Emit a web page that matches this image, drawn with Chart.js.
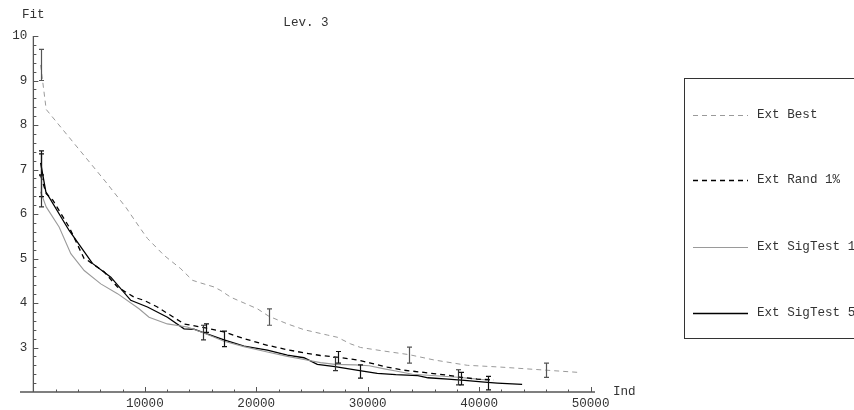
<!DOCTYPE html>
<html>
<head>
<meta charset="utf-8">
<script src="https://cdn.jsdelivr.net/npm/chart.js@4/dist/chart.umd.min.js"></script>
<style>
  html, body { margin: 0; padding: 0; background: #fff; }
  #wrap { width: 854px; height: 410px; position: relative; }
</style>
</head>
<body>
<div id="wrap"><canvas id="c" width="854" height="410"></canvas></div>
<script>
// Fitness vs. number of individuals, level 3 runs
const seriesNames = ['Ext Best', 'Ext Rand 1%', 'Ext SigTest 1%', 'Ext SigTest 5%'];

const bestX = [650, 1150, 6500, 8300, 9640, 10240, 11730, 13230, 14280, 15020, 16215, 16820, 17710, 20100, 21150, 22800, 24290, 26380, 27280, 28480, 29370, 31460, 33700, 35950, 38940, 41930, 46030, 48950];
const bestY = [9.35, 8.35, 6.72, 6.15, 5.66, 5.45, 5.07, 4.77, 4.51, 4.45, 4.36, 4.28, 4.13, 3.87, 3.70, 3.53, 3.40, 3.28, 3.23, 3.08, 3.00, 2.92, 2.84, 2.72, 2.60, 2.56, 2.49, 2.44];

const randX = [650, 1150, 1750, 3200, 4550, 4860, 6350, 7550, 9040, 9930, 11130, 13520, 15450, 17110, 18900, 21000, 22790, 24280, 25770, 27300, 29090, 30260, 31750, 33240, 35040, 37430, 38400, 39820, 41330];
const randY = [6.87, 6.46, 6.31, 5.71, 5.00, 4.96, 4.70, 4.36, 4.13, 4.06, 3.91, 3.53, 3.44, 3.35, 3.20, 3.05, 2.95, 2.88, 2.82, 2.78, 2.72, 2.65, 2.56, 2.49, 2.44, 2.37, 2.33, 2.29, 2.27];

const sig1X = [650, 1150, 2310, 3360, 4560, 6050, 7550, 9480, 10380, 12020, 13810, 15250, 17110, 18900, 21000, 22790, 24280, 25770, 27070, 28870, 30130, 31500, 32520, 34030, 38130, 39870, 40740];
const sig1Y = [6.50, 6.16, 5.71, 5.11, 4.73, 4.43, 4.21, 3.87, 3.68, 3.53, 3.46, 3.33, 3.14, 3.02, 2.90, 2.80, 2.73, 2.66, 2.62, 2.61, 2.59, 2.52, 2.47, 2.40, 2.33, 2.29, 2.27];

const sig5X = [650, 1120, 3210, 5300, 6950, 8740, 10240, 12030, 13520, 14410, 15320, 17110, 18900, 21000, 22790, 24280, 25480, 27070, 29280, 30860, 32520, 34510, 35410, 37200, 38700, 40490, 41630, 43860];
const sig5Y = [7.15, 6.50, 5.63, 4.89, 4.58, 4.06, 3.91, 3.68, 3.42, 3.41, 3.33, 3.17, 3.03, 2.94, 2.83, 2.77, 2.62, 2.57, 2.48, 2.42, 2.39, 2.37, 2.32, 2.29, 2.26, 2.22, 2.20, 2.17];

// error bars: position, lower and upper end
const bestErrX = [650, 21150, 33700, 46030];
const bestErrLo = [9.00, 3.50, 2.65, 2.33];
const bestErrHi = [9.70, 3.87, 3.01, 2.65];
const randErrX = [650, 15450, 27300, 38400];
const randErrLo = [6.39, 3.34, 2.65, 2.16];
const randErrHi = [7.35, 3.53, 2.91, 2.44];
const sig1ErrX = [650, 15250, 27070, 38130];
const sig1ErrLo = [6.16, 3.17, 2.48, 2.16];
const sig1ErrHi = [6.86, 3.50, 2.78, 2.50];
const sig5ErrX = [650, 17110, 29280, 40790];
const sig5ErrLo = [6.88, 3.02, 2.31, 2.05];
const sig5ErrHi = [7.42, 3.37, 2.61, 2.35];

// axis ticks
const xTickLabels = [10000, 20000, 30000, 40000, 50000];
const yTickLabels = [3, 4, 5, 6, 7, 8, 9, 10];

const FONT = '12.6px "Liberation Mono", "Courier New", monospace';
const TEXT = '#333';
const AXIS = '#555';

const pts = (xs, ys) => xs.map((v, i) => ({ x: v, y: ys[i] }));
const bars = (xs, lo, hi) => xs.map((v, i) => ({ x: v, lo: lo[i], hi: hi[i] }));

const datasets = [
  { label: seriesNames[0], data: pts(bestX, bestY), borderColor: '#9a9a9a', borderWidth: 1, borderDash: [5, 4],
    errorBars: bars(bestErrX, bestErrLo, bestErrHi), barColor: '#555' },
  { label: seriesNames[1], data: pts(randX, randY), borderColor: '#000', borderWidth: 1.3, borderDash: [5, 4],
    errorBars: bars(randErrX, randErrLo, randErrHi), barColor: '#111' },
  { label: seriesNames[2], data: pts(sig1X, sig1Y), borderColor: '#9a9a9a', borderWidth: 1.1, borderDash: [],
    errorBars: bars(sig1ErrX, sig1ErrLo, sig1ErrHi), barColor: '#333' },
  { label: seriesNames[3], data: pts(sig5X, sig5Y), borderColor: '#000', borderWidth: 1.3, borderDash: [],
    errorBars: bars(sig5ErrX, sig5ErrLo, sig5ErrHi), barColor: '#111' }
];
datasets.forEach(d => { d.pointRadius = 0; d.tension = 0; d.fill = false; });

// axes crossing at (0, 2) with inward ticks, in the style of a notebook plot
const axesPlugin = {
  id: 'crossAxes',
  beforeDatasetsDraw(chart) {
    const { ctx, scales: { x, y } } = chart;
    const ox = x.getPixelForValue(0), oy = y.getPixelForValue(2);
    ctx.save();
    ctx.strokeStyle = AXIS;
    ctx.lineWidth = 1.3;
    ctx.beginPath();
    ctx.moveTo(x.left, oy); ctx.lineTo(x.right, oy);
    ctx.moveTo(ox, oy); ctx.lineTo(ox, y.getPixelForValue(10));
    ctx.stroke();
    ctx.lineWidth = 1;
    ctx.beginPath();
    for (let v = 2000; v <= 50000; v += 2000) {
      const px = Math.round(x.getPixelForValue(v)) + 0.5;
      const len = xTickLabels.includes(v) ? 5 : 2.5;
      ctx.moveTo(px, oy); ctx.lineTo(px, oy - len);
    }
    for (let k = 1; k <= 40; k++) {
      const v = 2 + k * 0.2;
      const py = Math.round(y.getPixelForValue(v)) + 0.5;
      const major = Math.abs(v - Math.round(v)) < 1e-6;
      ctx.moveTo(ox, py); ctx.lineTo(ox + (major ? 5 : 3), py);
    }
    ctx.stroke();

    ctx.fillStyle = TEXT;
    ctx.font = FONT;
    ctx.textBaseline = 'middle';
    ctx.textAlign = 'center';
    xTickLabels.forEach(v => ctx.fillText(String(v), x.getPixelForValue(v), oy + 11.5));
    ctx.textAlign = 'right';
    yTickLabels.forEach(v => ctx.fillText(String(v), ox - 6, y.getPixelForValue(v)));
    ctx.textAlign = 'left';
    ctx.fillText('Fit', 22, 15);
    ctx.fillText('Ind', 613, oy);
    ctx.textAlign = 'center';
    ctx.fillText('Lev. 3', 306, 23);
    ctx.restore();
  },
  afterDatasetsDraw(chart) {
    const { ctx, scales: { x, y } } = chart;
    ctx.save();
    chart.data.datasets.forEach(ds => {
      ctx.strokeStyle = ds.barColor;
      ctx.lineWidth = 1.2;
      ctx.beginPath();
      ds.errorBars.forEach(b => {
        const px = Math.round(x.getPixelForValue(b.x)) + 0.5;
        const yl = y.getPixelForValue(b.lo), yh = y.getPixelForValue(b.hi);
        ctx.moveTo(px, yl); ctx.lineTo(px, yh);
        ctx.moveTo(px - 2.5, yl); ctx.lineTo(px + 2.5, yl);
        ctx.moveTo(px - 2.5, yh); ctx.lineTo(px + 2.5, yh);
      });
      ctx.stroke();
    });
    ctx.restore();
  },
  afterDraw(chart) {
    // legend box on the right, running off the page edge
    const { ctx } = chart;
    ctx.save();
    ctx.strokeStyle = '#333';
    ctx.lineWidth = 1;
    ctx.strokeRect(684.5, 78.5, 220, 260);
    const rows = [115, 180, 247, 313];
    ctx.font = FONT;
    ctx.fillStyle = TEXT;
    ctx.textBaseline = 'middle';
    ctx.textAlign = 'left';
    chart.data.datasets.forEach((ds, i) => {
      const ry = rows[i] + 0.5;
      ctx.strokeStyle = ds.borderColor;
      ctx.lineWidth = ds.borderWidth;
      ctx.setLineDash(ds.borderDash);
      ctx.beginPath();
      ctx.moveTo(693, ry); ctx.lineTo(748, ry);
      ctx.stroke();
      ctx.setLineDash([]);
      ctx.fillText(ds.label, 757, rows[i]);
    });
    ctx.restore();
  }
};

new Chart(document.getElementById('c'), {
  type: 'line',
  data: { datasets },
  options: {
    responsive: false,
    devicePixelRatio: 1,
    animation: false,
    layout: { padding: { left: 20, right: 259, top: 36, bottom: 18 } },
    plugins: { legend: { display: false }, title: { display: false }, tooltip: { enabled: false } },
    scales: {
      x: { type: 'linear', min: -1200, max: 50400, display: false },
      y: { type: 'linear', min: 2, max: 10, display: false }
    }
  },
  plugins: [axesPlugin]
});
</script>
</body>
</html>
